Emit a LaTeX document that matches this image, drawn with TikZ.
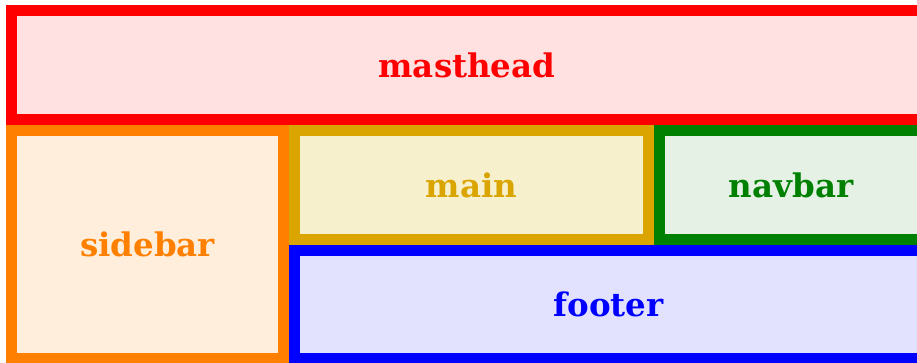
\documentclass[tikz,border=0pt]{standalone}
\usepackage{fontspec}
\setmainfont{DejaVu Serif}
\definecolor{cred}{HTML}{FF0000}
\definecolor{corange}{HTML}{FF8000}
\definecolor{cgold}{HTML}{DAA500}
\definecolor{cgreen}{HTML}{008000}
\definecolor{cblue}{HTML}{0000FF}
\definecolor{fred}{HTML}{FFE1E1}
\definecolor{forange}{HTML}{FFEEDC}
\definecolor{fgold}{HTML}{F7F0CC}
\definecolor{fgreen}{HTML}{E4F1E4}
\definecolor{fblue}{HTML}{E2E2FF}
\begin{document}
\begin{tikzpicture}[x=1pt,y=-1pt,
  area/.style={draw=#1, line width=11pt, inner sep=0pt, outer sep=0pt, anchor=center,
    font=\fontsize{32.5}{38}\selectfont\bfseries, text=#1},
]
\useasboundingbox (0,0) rectangle (917,362);
\clip (0,0) rectangle (917,362);
\node[area=cred, fill=fred, minimum width=911pt, minimum height=109pt] (masthead) at (467,65) {masthead};
\node[area=corange, fill=forange, minimum width=272pt, minimum height=228pt] (sidebar) at (147.5,244.5) {sidebar};
\node[area=cgold, fill=fgold, minimum width=354pt, minimum height=109pt] (main) at (471.5,185) {main};
\node[area=cgreen, fill=fgreen, minimum width=263pt, minimum height=109pt] (navbar) at (791,185) {navbar};
\node[area=cblue, fill=fblue, minimum width=628pt, minimum height=108pt] (footer) at (608.5,304.5) {footer};
\end{tikzpicture}
\end{document}
